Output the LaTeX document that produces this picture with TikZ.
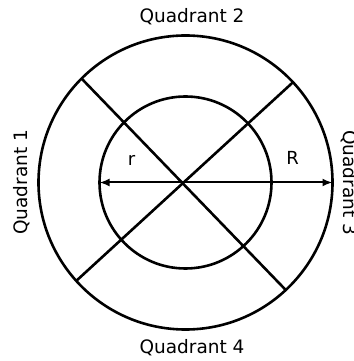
\documentclass[tikz,border=0pt]{standalone}
\usepackage{fontspec}
\setmainfont{DejaVu Sans}
\usetikzlibrary{arrows.meta}
\tikzset{
  ring/.style={circle, draw=black, line width=2.6pt, outer sep=0pt, inner sep=0pt},
  spoke/.style={line width=2.6pt, draw=black},
  radarrow/.style={-{Latex[length=10pt,width=8pt]}, line width=2pt, draw=black},
  qlabel/.style={font=\fontsize{18.5}{22}\selectfont, inner sep=0pt},
  rlabel/.style={font=\fontsize{18}{21}\selectfont, inner sep=0pt}
}
\begin{document}
\begin{tikzpicture}[x=1pt,y=1pt]
  \useasboundingbox (0,0) rectangle (353,361);
  \coordinate (c) at (185.5,178.5);
  \node[ring, minimum size=294pt] (outer) at (c) {};
  \node[ring, minimum size=172pt] (inner) at (c) {};
  \draw[spoke] (outer.135) -- (outer.313);
  \draw[spoke] (outer.43) -- (outer.222);
  \draw[radarrow] (c) -- (inner.west);
  \draw[radarrow] (c) -- (outer.east);
  \node[rlabel] (lr) at (131.5,200.3) {r};
  \node[rlabel] (lR) at (292.5,202.7) {R};
  \node[qlabel, anchor=base] (q2) at (192,338.5) {Quadrant 2};
  \node[qlabel, anchor=base] (q4) at (192,7) {Quadrant 4};
  \node[qlabel, anchor=base, rotate=90] (q1) at (27.5,178.5) {Quadrant 1};
  \node[qlabel, anchor=base, rotate=-90] (q3) at (343,178.5) {Quadrant 3};
\end{tikzpicture}
\end{document}
